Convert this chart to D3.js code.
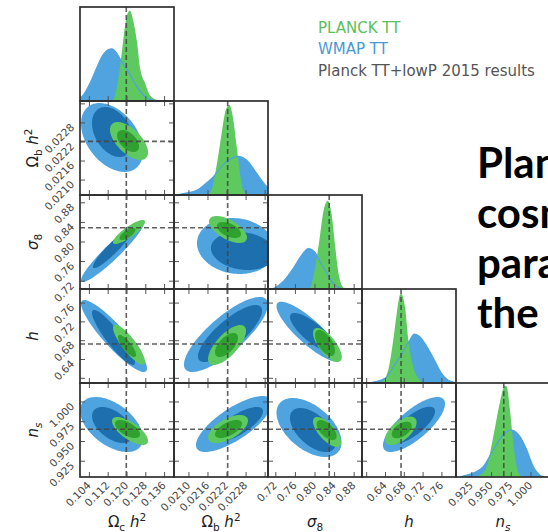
<!DOCTYPE html>
<html><head><meta charset="utf-8">
<script src="https://cdn.jsdelivr.net/npm/d3@7"></script>
<style>body{margin:0;background:#fff;overflow:hidden}svg{display:block}</style>
</head><body><svg id="c" width="548" height="532"></svg>
<script>
// ---------------- DATA ----------------
const paramKeys = ["omch2", "ombh2", "sigma8", "h", "ns"];
const paramDomains = [[0.100, 0.140], [0.02053, 0.02349], [0.704, 0.896], [0.59, 0.79], [0.905, 1.024]];
const tickValues = [
  [0.104, 0.112, 0.120, 0.128, 0.136],
  [0.0210, 0.0216, 0.0222, 0.0228, 0.0234],
  [0.72, 0.76, 0.80, 0.84, 0.88],
  [0.60, 0.64, 0.68, 0.72, 0.76],
  [0.925, 0.950, 0.975, 1.000]
];
const tickLabels = [
  ["0.104", "0.112", "0.120", "0.128", "0.136"],
  ["0.0210", "0.0216", "0.0222", "0.0228"],
  ["0.72", "0.76", "0.80", "0.84", "0.88"],
  ["0.64", "0.68", "0.72", "0.76"],
  ["0.925", "0.950", "0.975", "1.000"]
];
const planckBestFit = [0.1197, 0.02222, 0.829, 0.6731, 0.9655];

// 1D marginals: [value, relative density]
const planck1D_omch2 = [[0.1100,0],[0.1140,0.01],[0.1162,0.22],[0.1179,0.54],[0.1191,0.79],[0.1204,0.94],[0.1213,0.96],[0.1226,0.86],[0.1243,0.62],[0.1255,0.36],[0.1277,0.19],[0.1298,0.06],[0.1328,0.01],[0.1360,0]];
const wmap1D_omch2 = [[0.0990,0.01],[0.1000,0.03],[0.10128,0.06],[0.10426,0.19],[0.10723,0.36],[0.10979,0.49],[0.11191,0.545],[0.11362,0.555],[0.11532,0.52],[0.11702,0.45],[0.11872,0.38],[0.12128,0.28],[0.12426,0.15],[0.12638,0.08],[0.12851,0.03],[0.13106,0.01],[0.1340,0]];
const planck1D_ombh2 = [[0.021601,0],[0.021727,0.07],[0.021875,0.32],[0.022032,0.66],[0.022136,0.87],[0.022271,0.96],[0.022397,0.80],[0.022504,0.51],[0.022608,0.23],[0.022712,0.05],[0.022829,0]];
const wmap1D_ombh2 = [[0.020615,0],[0.020908,0.02],[0.021245,0.05],[0.02156,0.13],[0.021758,0.19],[0.022073,0.32],[0.022293,0.38],[0.022545,0.41],[0.022819,0.37],[0.023134,0.23],[0.023449,0.09],[0.02360,0.05]];
const planck1D_sigma8 = [[0.7857,0],[0.78979,0.01],[0.8000,0.22],[0.81022,0.57],[0.81696,0.82],[0.8239,0.93],[0.82594,0.94],[0.83411,0.79],[0.84085,0.47],[0.84759,0.18],[0.85454,0.04],[0.86128,0]];
const wmap1D_sigma8 = [[0.71421,0],[0.73525,0.08],[0.75568,0.22],[0.77284,0.36],[0.78632,0.43],[0.8000,0.39],[0.81022,0.29],[0.8239,0.17],[0.83738,0.06],[0.85107,0.01],[0.8600,0]];
const planck1D_h = [[0.62404,0],[0.63192,0.01],[0.64596,0.14],[0.6566,0.46],[0.66383,0.74],[0.67085,0.94],[0.67298,0.95],[0.68149,0.81],[0.68851,0.46],[0.69915,0.17],[0.70979,0.05],[0.71702,0.01],[0.72404,0]];
const wmap1D_h = [[0.6034,0],[0.63894,0.05],[0.6566,0.17],[0.67447,0.31],[0.69213,0.46],[0.70128,0.52],[0.71341,0.49],[0.72766,0.39],[0.74532,0.23],[0.75958,0.10],[0.77362,0.03],[0.78426,0.01],[0.7900,0]];
const planck1D_ns = [[0.93032,0],[0.93538,0.02],[0.94387,0.11],[0.95222,0.43],[0.95855,0.71],[0.96488,0.94],[0.96703,0.97],[0.96919,0.96],[0.97336,0.71],[0.97754,0.36],[0.98185,0.11],[0.98602,0.02],[0.99109,0]];
const wmap1D_ns = [[0.91006,0],[0.91855,0.02],[0.92905,0.05],[0.93956,0.11],[0.95222,0.29],[0.96488,0.45],[0.97552,0.50],[0.98602,0.43],[0.99451,0.29],[1.00286,0.11],[1.01134,0.02],[1.01767,0]];

// 2D contours: [row, col, level(1|2), centerX, centerY, halfExtentX, halfExtentY, correlation]
const wmap2D = [
  [1,0,2, 0.11362,0.022341,0.01319,0.001086,-0.40],
  [1,0,1, 0.11383,0.022514,0.00872,0.000787,-0.35],
  [2,0,2, 0.11383,0.78059,0.0134,0.0623,0.94],
  [2,0,1, 0.11404,0.78774,0.00851,0.0409,0.93],
  [3,0,2, 0.11447,0.6900,0.01404,0.0766,-0.90],
  [3,0,1, 0.11426,0.68681,0.00915,0.0585,-0.90],
  [4,0,2, 0.1134,0.97146,0.0134,0.0348,-0.50],
  [4,0,1, 0.11383,0.97083,0.00872,0.02279,-0.50],
  [2,1,2, 0.022482,0.79183,0.001228,0.0572,-0.10],
  [2,1,1, 0.022703,0.78161,0.001008,0.0388,-0.15],
  [3,1,2, 0.022167,0.6932,0.001323,0.0798,0.80],
  [3,1,1, 0.022293,0.69532,0.001008,0.0606,0.80],
  [4,1,2, 0.022419,0.97209,0.001197,0.03545,0.75],
  [4,1,1, 0.022545,0.97146,0.000787,0.02216,0.75],
  [3,2,2, 0.78775,0.69915,0.0664,0.0638,-0.85],
  [3,2,1, 0.79655,0.69638,0.0476,0.04255,-0.80],
  [4,2,2, 0.78775,0.96766,0.0664,0.03735,-0.50],
  [4,2,1, 0.79592,0.9645,0.047,0.02785,-0.55],
  [4,3,2, 0.70064,0.97146,0.066,0.03482,0.75],
  [4,3,1, 0.69915,0.97083,0.0462,0.02317,0.75]
];
const planck2D = [
  [1,0,2, 0.12085,0.02223,0.00809,0.000598,-0.60],
  [1,0,1, 0.12043,0.02223,0.00468,0.000346,-0.50],
  [2,0,2, 0.12085,0.82042,0.00681,0.0245,0.85],
  [2,0,1, 0.12021,0.81634,0.0034,0.01226,0.70],
  [3,0,2, 0.12085,0.6715,0.00681,0.04255,-0.85],
  [3,0,1, 0.1200,0.6687,0.00383,0.0234,-0.80],
  [4,0,2, 0.12128,0.96323,0.00766,0.01772,-0.70],
  [4,0,1, 0.12021,0.96577,0.00532,0.0114,-0.60],
  [2,1,2, 0.0222305,0.82553,0.000598,0.02758,-0.60],
  [2,1,1, 0.022262,0.82451,0.000378,0.01634,-0.50],
  [3,1,2, 0.0222,0.67085,0.000598,0.04255,0.70],
  [3,1,1, 0.022183,0.67085,0.000362,0.02553,0.60],
  [4,1,2, 0.0222305,0.96576,0.00063,0.01772,0.60],
  [4,1,1, 0.022246,0.96576,0.000425,0.0114,0.60],
  [3,2,2, 0.82513,0.67085,0.0292,0.0362,-0.70],
  [3,2,1, 0.82043,0.67511,0.0204,0.02766,-0.60],
  [4,2,2, 0.82452,0.96196,0.0286,0.019,-0.70],
  [4,2,1, 0.82384,0.9645,0.0204,0.01266,-0.60],
  [4,3,2, 0.67256,0.96349,0.0336,0.018,0.60],
  [4,3,1, 0.67447,0.9645,0.0213,0.0105,0.50]
];
const legendLabels = ["PLANCK TT", "WMAP TT", "Planck TT+lowP 2015 results"];
const slideLines = ["Planck", "cosmological", "parameters", "the CMB"];

// ---------------- LAYOUT / STYLE ----------------
const LEFT = 80, TOP = 7, CELL = 94;
const lightBlue = "#4fa3de", darkBlue = "#1d6fae", lightGreen = "#5ec95e", darkGreen = "#2ea12e";
const fam = "'DejaVu Sans', sans-serif";
const planck1D = [planck1D_omch2, planck1D_ombh2, planck1D_sigma8, planck1D_h, planck1D_ns];
const wmap1D = [wmap1D_omch2, wmap1D_ombh2, wmap1D_sigma8, wmap1D_h, wmap1D_ns];
const N = paramKeys.length;

const svg = d3.select("#c");
const defs = svg.append("defs");
const xS = paramDomains.map((d, i) => d3.scaleLinear().domain(d).range([LEFT + i * CELL, LEFT + (i + 1) * CELL]));
const yS = paramDomains.map((d, i) => d3.scaleLinear().domain(d).range([TOP + (i + 1) * CELL, TOP + i * CELL]));

// slide text on the right (cut by the window edge, as in the source slide)
slideLines.forEach((t, i) => {
  svg.append("text").attr("x", 477).attr("y", 178 + i * 50)
    .attr("font-family", "Lato, 'Open Sans', sans-serif").attr("font-weight", 700)
    .attr("font-size", 42).attr("fill", "#000").text(t);
});

// legend
const legendColors = ["#5cc05c", "#4a98d6", "#555"];
legendLabels.forEach((t, i) => {
  svg.append("text").attr("x", 318).attr("y", [32.5, 54, 75.5][i])
    .attr("font-family", fam).attr("font-size", 15).attr("fill", legendColors[i]).text(t);
});

function ellipsePts(row, col, e) {
  const [cx, cy, hx, hy, rho] = e;
  const s = Math.sqrt(1 - rho * rho);
  return d3.range(0, 120).map(k => {
    const t = k / 120 * 2 * Math.PI;
    return [xS[col](cx + hx * Math.cos(t)), yS[row](cy + hy * (rho * Math.cos(t) + s * Math.sin(t)))];
  });
}
const closed = d3.line().curve(d3.curveLinearClosed);

for (let r = 0; r < N; r++) {
  for (let c = 0; c <= r; c++) {
    const x0 = LEFT + c * CELL, y0 = TOP + r * CELL;
    const id = `clip-${r}-${c}`;
    defs.append("clipPath").attr("id", id).append("rect").attr("x", x0).attr("y", y0).attr("width", CELL).attr("height", CELL);
    const g = svg.append("g");
    const pg = g.append("g").attr("clip-path", `url(#${id})`);
    if (r === c) {
      const dy = d3.scaleLinear().domain([0, 1]).range([y0 + CELL, y0]);
      const area = d3.area().x(d => xS[c](d[0])).y0(y0 + CELL).y1(d => dy(d[1])).curve(d3.curveMonotoneX);
      const line = d3.line().x(d => xS[c](d[0])).y(d => dy(d[1])).curve(d3.curveMonotoneX);
      pg.append("path").attr("d", area(wmap1D[c])).attr("fill", lightBlue);
      pg.append("path").attr("d", area(planck1D[c])).attr("fill", lightGreen);
      pg.append("path").attr("d", line(wmap1D[c])).attr("fill", "none").attr("stroke", lightBlue).attr("stroke-width", 1.2);
    } else {
      const sets = [[wmap2D, lightBlue, darkBlue], [planck2D, lightGreen, darkGreen]];
      sets.forEach(([arr, c2, c1]) => {
        [2, 1].forEach(lv => {
          arr.filter(d => d[0] === r && d[1] === c && d[2] === lv).forEach(d => {
            pg.append("path").attr("d", closed(ellipsePts(r, c, d.slice(3))))
              .attr("fill", lv === 2 ? c2 : c1);
          });
        });
      });
      pg.append("line").attr("x1", x0).attr("x2", x0 + CELL)
        .attr("y1", yS[r](planckBestFit[r])).attr("y2", yS[r](planckBestFit[r]))
        .attr("stroke", "#444").attr("stroke-opacity", 0.85).attr("stroke-width", 1.6).attr("stroke-dasharray", "5,3");
    }
    pg.append("line").attr("y1", y0).attr("y2", y0 + CELL)
      .attr("x1", xS[c](planckBestFit[c])).attr("x2", xS[c](planckBestFit[c]))
      .attr("stroke", "#444").attr("stroke-opacity", 0.85).attr("stroke-width", 1.6).attr("stroke-dasharray", "5,3");

    const tl = 5;
    const tg = g.append("g").attr("stroke", "#555").attr("stroke-width", 1);
    tickValues[c].forEach(v => {
      const x = xS[c](v);
      tg.append("line").attr("x1", x).attr("x2", x).attr("y1", y0 + CELL).attr("y2", y0 + CELL - tl);
      if (r !== c) tg.append("line").attr("x1", x).attr("x2", x).attr("y1", y0).attr("y2", y0 + tl);
    });
    if (r !== c) {
      tickValues[r].forEach(v => {
        const y = yS[r](v);
        tg.append("line").attr("y1", y).attr("y2", y).attr("x1", x0).attr("x2", x0 + tl);
        tg.append("line").attr("y1", y).attr("y2", y).attr("x1", x0 + CELL).attr("x2", x0 + CELL - tl);
      });
    }
    g.append("rect").attr("x", x0).attr("y", y0).attr("width", CELL).attr("height", CELL)
      .attr("fill", "none").attr("stroke", "#2e2e2e").attr("stroke-width", 1.7);
  }
}

// tick labels
const labelG = svg.append("g").attr("font-family", fam).attr("font-size", 10.5).attr("fill", "#444");
for (let c = 0; c < N; c++) {
  tickLabels[c].forEach(t => {
    const x = xS[c](+t);
    labelG.append("text").attr("text-anchor", "end")
      .attr("transform", `translate(${x + 2},${TOP + N * CELL + 9}) rotate(-45)`).text(t);
  });
}
for (let r = 1; r < N; r++) {
  tickLabels[r].forEach(t => {
    const y = yS[r](+t);
    labelG.append("text").attr("text-anchor", "end")
      .attr("transform", `translate(${LEFT - 5},${y + 5}) rotate(-45)`).text(t);
  });
}

// axis titles (math text)
const titles = [
  [{t: "Ω"}, {t: "c", sub: 1}, {t: " "}, {t: "h", it: 1}, {t: "2", sup: 1}],
  [{t: "Ω"}, {t: "b", sub: 1}, {t: " "}, {t: "h", it: 1}, {t: "2", sup: 1}],
  [{t: "σ", it: 1}, {t: "8", sub: 1}],
  [{t: "h", it: 1}],
  [{t: "n", it: 1}, {t: "s", sub: 1, it: 1}]
];
function mathText(sel, parts) {
  let shift = 0;
  parts.forEach(p => {
    const target = p.sub ? 4 : p.sup ? -6 : 0;
    const ts = sel.append("tspan").text(p.t).attr("dy", target - shift);
    shift = target;
    if (p.sub || p.sup) ts.attr("font-size", "70%");
    if (p.it) ts.attr("font-style", "italic");
  });
}
for (let c = 0; c < N; c++) {
  const t = svg.append("text").attr("x", LEFT + c * CELL + CELL / 2).attr("y", 527)
    .attr("text-anchor", "middle").attr("font-family", fam).attr("font-size", 15).attr("fill", "#222");
  mathText(t, titles[c]);
}
for (let r = 1; r < N; r++) {
  const t = svg.append("text").attr("text-anchor", "middle").attr("font-family", fam).attr("font-size", 15).attr("fill", "#222")
    .attr("transform", `translate(38,${TOP + r * CELL + CELL / 2}) rotate(-90)`);
  mathText(t, titles[r]);
}
</script></body></html>
